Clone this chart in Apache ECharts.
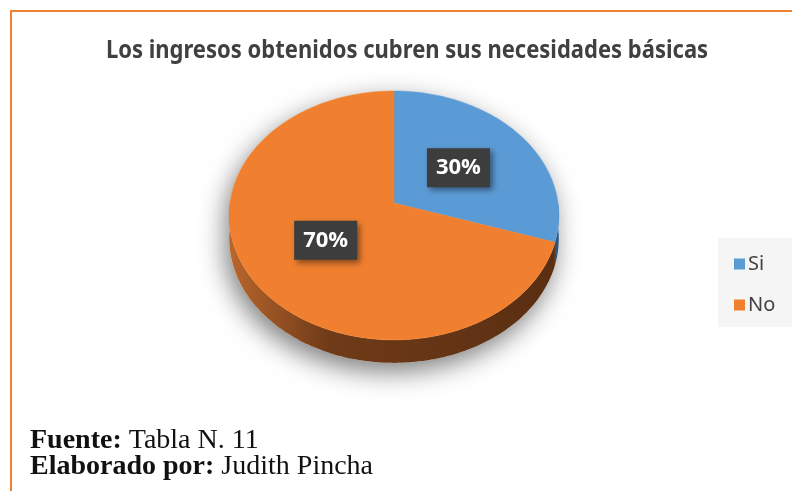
<!DOCTYPE html>
<html>
<head>
<meta charset="utf-8">
<script src="https://cdn.jsdelivr.net/npm/echarts@6/dist/echarts.min.js"></script>
<style>
  html, body { margin: 0; padding: 0; background: #fff; }
  #container { width: 792px; height: 491px; }
</style>
</head>
<body>
<div id="container"></div>
<script>
// datos del grafico
var categorias = ['Si', 'No'];
var valores = [30, 70];
var colores = ['#5B9BD5', '#F0802F'];
var total = valores.reduce(function (a, b) { return a + b; }, 0);

var dom = document.getElementById('container');
var myChart = echarts.init(dom);

// geometria del pastel 3D (perspectiva simple)
var cx = 394, cy = 203, A = 123.2, B = 164, k = 0.1, depth = 23;

function proj(ang, r, dy) {
    var u = Math.sin(ang) * r, v = -Math.cos(ang) * r;
    var d = 1 - k * v;
    return [cx + B * u / d, cy + A * v / d + (dy || 0)];
}

function arcPts(a0, a1, dy) {
    var pts = [];
    var n = Math.max(4, Math.ceil((a1 - a0) / 0.02));
    for (var i = 0; i <= n; i++) {
        pts.push(proj(a0 + (a1 - a0) * i / n, 1, dy));
    }
    return pts;
}

// angulos acumulados
var inicio = [];
var acc = 0;
valores.forEach(function (v) { inicio.push(acc); acc += v; });

var sideFill = [
    new echarts.graphic.LinearGradient(230, 0, 558, 0, [
        { offset: 0, color: '#3f6f9c' }, { offset: 1, color: '#2c557c' }
    ], true),
    new echarts.graphic.LinearGradient(230, 0, 558, 0, [
        { offset: 0, color: '#b8662c' },
        { offset: 0.3, color: '#6f3b18' },
        { offset: 1, color: '#5a2e12' }
    ], true)
];

function makeRender(idx) {
    return function (params, api) {
        var a0 = inicio[idx] / total * Math.PI * 2;
        var a1 = (inicio[idx] + valores[idx]) / total * Math.PI * 2;
        var children = [];

        // sombra de la base (solo una vez)
        if (idx === 0) {
            var base = arcPts(Math.PI / 2, Math.PI * 1.5, depth)
                .concat(arcPts(-Math.PI / 2, Math.PI / 2, 0));
            children.push({
                type: 'polygon',
                shape: { points: base },
                style: {
                    fill: '#fff',
                    shadowBlur: 26,
                    shadowColor: 'rgba(0,0,0,0.5)',
                    shadowOffsetX: -4,
                    shadowOffsetY: 9
                },
                silent: true
            });
        }

        // cara lateral visible (de 90 a 270 grados)
        var s = Math.max(a0, Math.PI / 2), e = Math.min(a1, Math.PI * 1.5);
        if (e > s) {
            var top = arcPts(s, e, 0);
            var bot = arcPts(s, e, depth).reverse();
            children.push({
                type: 'polygon',
                shape: { points: top.concat(bot) },
                style: { fill: sideFill[idx] }
            });
        }

        // cara superior
        var pts = [proj(0, 0, 0)].concat(arcPts(a0, a1, 0));
        children.push({
            type: 'polygon',
            shape: { points: pts },
            style: { fill: colores[idx], stroke: colores[idx], lineWidth: 0.5 }
        });

        // etiqueta
        var mid = (a0 + a1) / 2;
        var lp = proj(mid, 0.5, 0);
        children.push({
            type: 'text',
            x: lp[0],
            y: lp[1],
            style: {
                text: Math.round(valores[idx] / total * 100) + '%',
                fill: '#fff',
                font: 'bold 22px "Open Sans", sans-serif',
                align: 'center',
                verticalAlign: 'middle',
                backgroundColor: '#3d3d3d',
                padding: [10, 9, 7, 9],
                shadowBlur: 6,
                shadowColor: 'rgba(0,0,0,0.45)',
                shadowOffsetX: 3,
                shadowOffsetY: 3
            },
            z2: 10
        });

        return { type: 'group', children: children };
    };
}

var series = categorias.map(function (c, i) {
    return {
        name: c,
        type: 'custom',
        coordinateSystem: 'none',
        itemStyle: { color: colores[i] },
        renderItem: makeRender(i),
        data: [[valores[i]]],
        animation: false
    };
});

var option = {
    backgroundColor: '#fff',
    animation: false,
    graphic: [
        {
            type: 'rect',
            shape: { x: 11, y: 11, width: 800, height: 500 },
            style: { fill: 'none', stroke: '#F08131', lineWidth: 2 },
            z: -10
        },
        {
            type: 'rect',
            shape: { x: 718, y: 238, width: 74, height: 89 },
            style: { fill: '#f5f5f5' },
            z: -5
        },
        {
            type: 'text',
            x: 407,
            y: 51,
            scaleY: 1.1,
            style: {
                text: 'Los ingresos obtenidos cubren sus necesidades básicas',
                fill: '#404040',
                font: 'bold 22px "Noto Sans", sans-serif',
                align: 'center',
                verticalAlign: 'middle'
            }
        },
        {
            type: 'text',
            x: 30,
            y: 455,
            style: {
                text: '{b|Fuente:} Tabla N. 11',
                fill: '#111',
                font: '28px "Liberation Serif", serif',
                verticalAlign: 'bottom',
                rich: { b: { fontWeight: 'bold', fontSize: 28, fontFamily: 'Liberation Serif', fill: '#111' } }
            }
        },
        {
            type: 'text',
            x: 30,
            y: 481,
            style: {
                text: '{b|Elaborado por:} Judith Pincha',
                fill: '#111',
                font: '28px "Liberation Serif", serif',
                verticalAlign: 'bottom',
                rich: { b: { fontWeight: 'bold', fontSize: 28, fontFamily: 'Liberation Serif', fill: '#111' } }
            }
        }
    ],
    legend: {
        orient: 'vertical',
        left: 729,
        top: 249,
        itemGap: 21,
        itemWidth: 11,
        itemHeight: 11,
        icon: 'rect',
        data: categorias,
        textStyle: { color: '#404040', fontSize: 20, fontFamily: 'Noto Sans', padding: [0, 0, 0, -2] }
    },
    series: series
};

if (option && typeof option === "object") {
    myChart.setOption(option, true);
}
</script>
</body>
</html>
